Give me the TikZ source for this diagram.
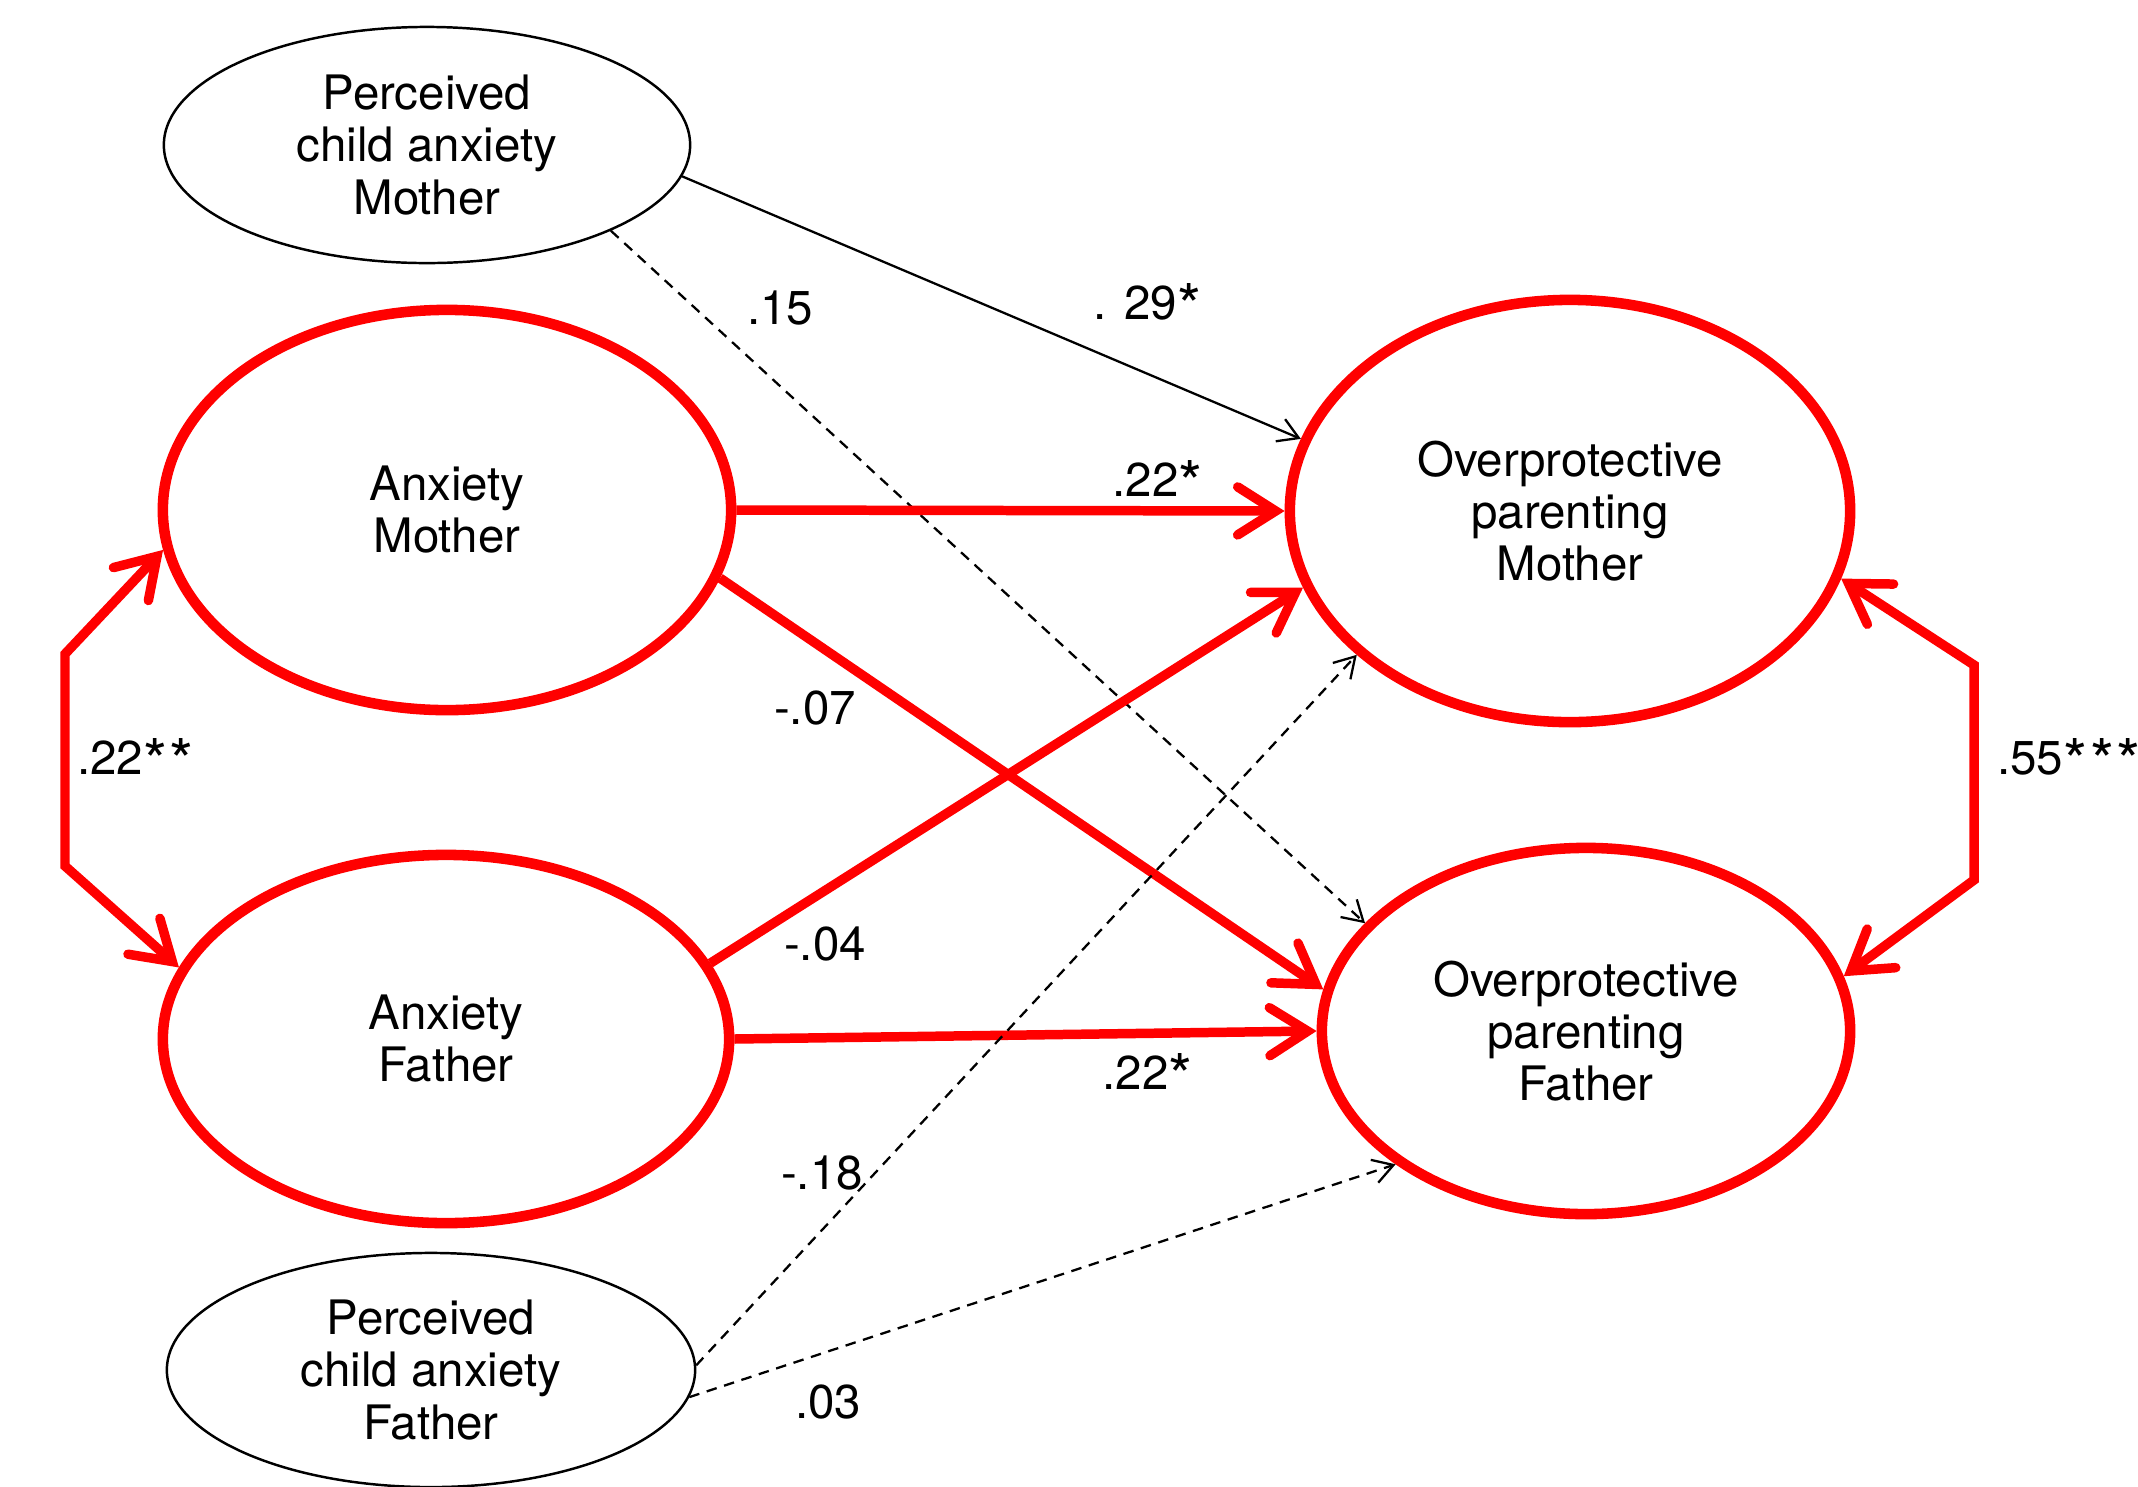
\documentclass[tikz,border=0pt]{standalone}
\usepackage{fontspec}
\setmainfont{TeX Gyre Heros}
\usetikzlibrary{arrows.meta, shapes.geometric}
\definecolor{cred}{HTML}{FF0000}
\newcommand{\sigstar}{\raisebox{-0.4ex}{\scalebox{1.3}{*}}\kern0.06em}
\tikzset{
  every picture/.style={font=\fontsize{13.5}{14.8}\selectfont, x=0.01cm, y=-0.01cm},
  observed/.style={ellipse, draw=black, line width=0.7pt, align=center, inner sep=0pt},
  construct/.style={ellipse, draw=cred, line width=3pt, align=center, inner sep=0pt},
  redpath/.style={draw=cred, line width=2.7pt, -{Straight Barb[length=3.8mm, width=4.8mm, line cap=round]}},
  covpath/.style={draw=cred, line width=2.7pt, {Straight Barb[length=3.8mm, width=4.8mm, line cap=round]}-{Straight Barb[length=3.8mm, width=4.8mm, line cap=round]}},
  thinpath/.style={draw=black, line width=0.65pt, -{Straight Barb[length=2mm, width=2.4mm]}},
  dashpath/.style={thinpath, dash pattern=on 3pt off 2.2pt},
  coef/.style={inner sep=1pt, anchor=base},
}

\begin{document}
\begin{tikzpicture}
  \useasboundingbox (0,0) rectangle (2138,1487);
  % predictors
  \node[observed, minimum width=5.26cm, minimum height=2.36cm] (pm) at (427,145) {Perceived\\child anxiety\\Mother};
  \node[construct, minimum width=5.68cm, minimum height=4.0cm] (am) at (447,510) {Anxiety\\Mother};
  \node[construct, minimum width=5.66cm, minimum height=3.68cm] (af) at (446,1039) {Anxiety\\Father};
  \node[observed, minimum width=5.28cm, minimum height=2.34cm] (pf) at (431,1370) {Perceived\\child anxiety\\Father};
  % outcomes
  \node[construct, minimum width=5.6cm, minimum height=4.22cm] (opm) at (1570,511) {Overprotective\\parenting\\Mother};
  \node[construct, minimum width=5.28cm, minimum height=3.66cm] (opf) at (1586,1031) {Overprotective\\parenting\\Father};

  % covariances
  \coordinate (lcov1) at (65,654);
  \coordinate (lcov2) at (65,866);
  \coordinate (rcov1) at (1974,665);
  \coordinate (rcov2) at (1974,880);
  \draw[covpath] (am.188) -- (lcov1) -- (lcov2) -- (af.165);
  \draw[covpath] (opm.-14) -- (rcov1) -- (rcov2) -- (opf.12);

  % paths
  \draw[thinpath] (pm.-7) -- (opm.165);
  \draw[dashpath] (pm.-25) -- (opf.154);
  \draw[redpath] (am.east) -- (opm.west);
  \draw[redpath] (am.-14) -- (opf.171);
  \draw[redpath] (af.16) -- (opm.196);
  \draw[redpath] (af.east) -- (opf.west);
  \draw[dashpath] (pf.1) -- (opm.214);
  \draw[dashpath] (pf.-6) -- (opf.215);

  % coefficients (placed by baseline)
  \node[coef] (c-am-af) at (137,774) {.22\sigstar\sigstar};
  \node[coef, anchor=base west] (c-opm-opf) at (1993,774) {.55\sigstar\sigstar\sigstar};
  \node[coef] (c-pm-opf) at (780,324) {.15};
  \node[coef] (c-pm-opm) at (1149,319) {. 29\sigstar};
  \node[coef] (c-am-opm) at (1159,496) {.22\sigstar};
  \node[coef] (c-am-opf) at (815,724) {-.07};
  \node[coef] (c-af-opm) at (825,960) {-.04};
  \node[coef] (c-af-opf) at (1149,1089) {.22\sigstar};
  \node[coef] (c-pf-opm) at (822,1189) {-.18};
  \node[coef] (c-pf-opf) at (828,1418) {.03};
\end{tikzpicture}
\end{document}
